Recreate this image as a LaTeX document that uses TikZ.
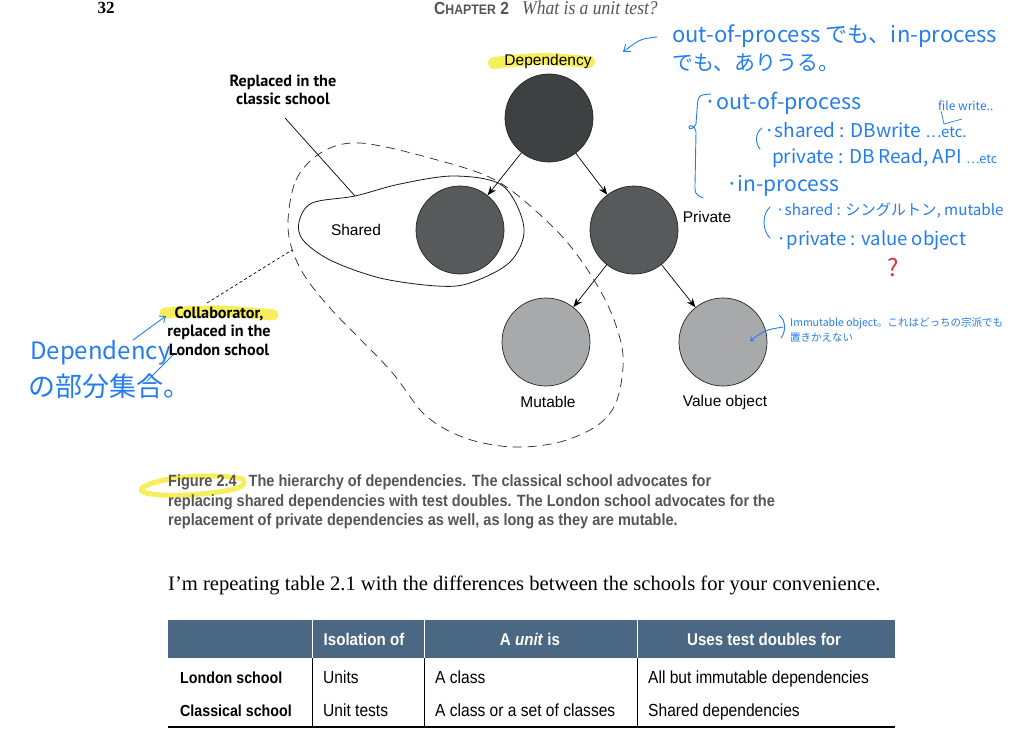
\documentclass[tikz,border=0pt]{standalone}
\usepackage{fontspec}
\setmainfont{Liberation Serif}
\setsansfont{Liberation Sans}
\newfontfamily\cjk{Noto Sans CJK JP}
\newfontfamily\cond[FakeStretch=0.89]{Liberation Sans}
\newfontfamily\ptb{PT Sans}
\newfontfamily\serifi[FakeStretch=0.9]{Liberation Serif}
\usetikzlibrary{arrows.meta}
\definecolor{depc}{HTML}{3F4042}
\definecolor{midc}{HTML}{58595B}
\definecolor{litc}{HTML}{A7A9AB}
\definecolor{pen}{RGB}{35,125,240}
\definecolor{hl}{HTML}{F6EE5C}
\definecolor{capg}{HTML}{555555}
\definecolor{tblue}{HTML}{4A6883}
\definecolor{redpen}{HTML}{D83434}
\begin{document}
\begin{tikzpicture}[x=1pt,y=-1pt,
  circ/.style={circle, draw=black!85, line width=0.7pt, minimum size=88pt, inner sep=0pt},
  lbl/.style={font=\sffamily\fontsize{15.5}{18}\selectfont, inner sep=0pt},
  arr/.style={line width=0.7pt, -{Stealth[length=9pt,width=7pt]}},
  boldlbl/.style={font=\ptb\bfseries\fontsize{16.2}{18.5}\selectfont, align=center, inner sep=0pt},
  hand/.style={pen, font=\cjk\fontsize{#1}{#1}\selectfont, anchor=west, inner sep=0pt},
  capt/.style={capg, font=\cond\bfseries\fontsize{16.3}{18}\selectfont, anchor=west, inner sep=0pt},
  tcell/.style={font=\cond\fontsize{17.5}{18}\selectfont, anchor=base west, inner sep=0pt},
  thead/.style={white, font=\cond\bfseries\fontsize{17}{18}\selectfont, anchor=base, inner sep=0pt},
  penline/.style={pen, line width=0.9pt, line cap=round}
]
\useasboundingbox[fill=white] (0,0) rectangle (1020,741);

% ---------- header ----------
\node[font=\bfseries\fontsize{17}{20}\selectfont, inner sep=0pt] (pg) at (106,8) {32};
\node[capg, font=\cond\bfseries\fontsize{17.5}{18}\selectfont, anchor=west, inner sep=0pt] (chap) at (434,8) {C{\fontsize{13.8}{14}\selectfont HAPTER} 2};
\node[capg, font=\serifi\itshape\fontsize{19.5}{20}\selectfont, anchor=west, inner sep=0pt] (ttl) at (522,8) {What is a unit test?};

% ---------- highlights ----------
\draw[hl, line width=12pt, line cap=round] (494,63) .. controls (540,58) .. (589,62);
\draw[hl, line width=11pt, line cap=round] (165,313) .. controls (220,310) .. (273,315);
\draw[hl, line width=5pt, line cap=round] (243,479) .. controls (215,473) and (160,476) .. (142,488) .. controls (136,495) and (170,497) .. (200,494) .. controls (225,492) and (246,488) .. (244,482);

% ---------- blobs ----------
\draw[black!85, line width=0.7pt, dash pattern=on 9pt off 6pt]
  plot[smooth cycle, tension=0.55] coordinates {(288,228) (296,180) (322,152) (360,143) (430,158) (497,181) (553,227) (585,266) (610,310) (623,355) (617,400) (598,425) (560,442) (513,447) (465,438) (425,415) (390,370) (330,308) (300,268)};
\draw[black!90, line width=0.8pt]
  plot[smooth cycle, tension=0.55] coordinates {(299,222) (312,203) (355,196) (400,184) (455,176) (503,186) (524,228) (510,262) (470,283) (437,286) (380,278) (330,260) (303,240)};

% ---------- circles ----------
\node[circ, fill=depc] (dep) at (549,118) {};
\node[circ, fill=midc] (sh) at (460,230) {};
\node[circ, fill=midc] (pr) at (634,230) {};
\node[circ, fill=litc] (mu) at (546,342) {};
\node[circ, fill=litc] (vo) at (723,342) {};

\draw[arr] (dep) -- (sh);
\draw[arr] (dep) -- (pr);
\draw[arr] (pr) -- (mu);
\draw[arr] (pr) -- (vo);

% ---------- labels ----------
\node[lbl] (depl) at (548,61) {Dependency};
\node[lbl] (shl) at (356,230) {Shared};
\node[lbl] (prl) at (707,217) {Private};
\node[lbl] (mul) at (548,402) {Mutable};
\node[lbl] (vol) at (725,402) {Value object};

\node[boldlbl] (repl) at (283,90) {Replaced in the\\classic school};
\coordinate (reptail) at (285,118);
\coordinate (blobtop) at (355,196);
\draw[line width=0.7pt] (reptail) -- (blobtop);

\node[boldlbl] (coll) at (219,331) {Collaborator,\\replaced in the\\London school};
\coordinate (collend) at (292,250);
\coordinate (colltail) at (207,303);
\draw[line width=0.7pt, dash pattern=on 3pt off 2.5pt] (colltail) -- (collend);

% ---------- handwritten notes ----------
\coordinate (ha1) at (657,37);
\coordinate (ha2) at (623,52);
\draw[penline, -{Straight Barb[length=6pt,width=9pt]}] (ha1) .. controls (640,39) .. (ha2);
\node[hand=22] (n1) at (672,36) {out-of-process でも、in-process};
\node[hand=21] (n2) at (672,63) {でも、ありうる。};

\draw[penline] (711,94) .. controls (698,95) .. (697,110) -- (696,124) .. controls (694,128) and (689,131) .. (689,127) .. controls (690,124) and (695,126) .. (696,132) -- (695,185) .. controls (695,194) .. (703,198);
\node[hand=21.5] (n3) at (704,103) {·out-of-process};
\node[hand=12] (n4) at (938,106) {file write..};
\draw[penline, line width=0.7pt] (941,111) -- (944,124) -- (962,119);
\draw[penline] (762,128) .. controls (755,133) and (755,143) .. (760,149);
\node[hand=19] (n5) at (764,130) {·shared : DBwrite {\fontsize{15}{15}\selectfont …etc.}};
\node[hand=19] (n6) at (772,158) {private : DB Read, API {\fontsize{12.5}{12.5}\selectfont …etc}};
\node[hand=21] (n7) at (726,186) {·in-process};
\draw[penline] (770,207) .. controls (762,214) and (762,230) .. (770,238);
\node[hand=15.2] (n8) at (776,211) {·shared : シングルトン, mutable};
\node[hand=18.5] (n9) at (776,240) {·private : value object};
\node[redpen, font=\cjk\fontsize{24}{24}\selectfont, inner sep=0pt] (q) at (893,268) {?};

\node[hand=24] (n10) at (30,353) {Dependency};
\node[hand=27] (n11) at (28,386) {の部分集合。};
\coordinate (la1) at (133,340);
\coordinate (la2) at (166,316);
\draw[penline, -{Straight Barb[length=5pt,width=8pt]}] (la1) -- (la2);
\coordinate (lb1) at (147,381);
\coordinate (lb2) at (173,355);
\draw[penline] (lb1) -- (lb2);

\draw[penline] (779,315) .. controls (786,320) and (786,332) .. (781,338);
\coordinate (ia1) at (783,327);
\coordinate (ia2) at (750,341);
\draw[penline, -{Straight Barb[length=3pt,width=5pt]}] (ia1) .. controls (765,330) .. (ia2);
\node[hand=10.5] (n12) at (790,323) {Immutable object。これはどっちの宗派でも};
\node[hand=10.5] (n13) at (790,338) {置きかえない};

% ---------- caption ----------
\node[capt] (c1) at (168,482) {Figure 2.4\hspace{12pt}The hierarchy of dependencies. The classical school advocates for};
\node[capt] (c2) at (168,502) {replacing shared dependencies with test doubles. The London school advocates for the};
\node[capt] (c3) at (168,521) {replacement of private dependencies as well, as long as they are mutable.};

% ---------- body text ----------
\node[font=\fontsize{20.6}{22}\selectfont, anchor=west, inner sep=0pt] (body) at (168,585) {I’m repeating table 2.1 with the differences between the schools for your convenience.};

% ---------- table ----------
\fill[tblue] (168,620) rectangle (895,658);
\draw[white, line width=0.8pt] (312,620) -- (312,658) (424,620) -- (424,658) (637,620) -- (637,658);
\draw[black, line width=0.8pt] (312,658) -- (312,727) (424,658) -- (424,727) (637,658) -- (637,727);
\draw[black, line width=1.2pt] (168,727) -- (895,727);
\node[thead] (h1) at (364,645) {Isolation of};
\node[thead] (h2) at (530,645) {A \textit{unit} is};
\node[thead] (h3) at (764,645) {Uses test doubles for};
\node[tcell, font=\cond\bfseries\fontsize{16}{18}\selectfont] (r1a) at (180,683) {London school};
\node[tcell] (r1b) at (323,683) {Units};
\node[tcell] (r1c) at (435,683) {A class};
\node[tcell] (r1d) at (648,683) {All but immutable dependencies};
\node[tcell, font=\cond\bfseries\fontsize{16}{18}\selectfont] (r2a) at (180,716) {Classical school};
\node[tcell] (r2b) at (323,716) {Unit tests};
\node[tcell] (r2c) at (435,716) {A class or a set of classes};
\node[tcell] (r2d) at (648,716) {Shared dependencies};
\end{tikzpicture}
\end{document}
